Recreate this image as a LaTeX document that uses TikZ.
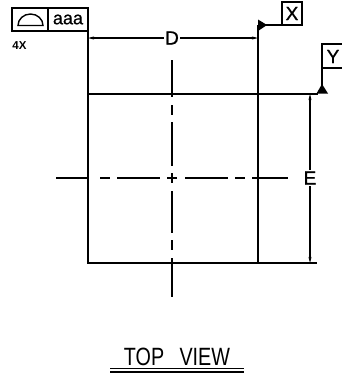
\documentclass[tikz,border=0pt]{standalone}
\usepackage{fontspec}
\usetikzlibrary{arrows.meta}
\setmainfont{Liberation Sans}
\tikzset{
	part/.style={line width=1.6pt},
	dimline/.style={line width=1.4pt,-{Stealth[length=6pt,width=3pt]}},
	cadbox/.style={draw,line width=1.6pt,inner sep=0pt,outer sep=0pt,anchor=north west},
	cadtext/.style={inner sep=0pt,font=\fontsize{19}{19}\selectfont\addfontfeature{FakeBold=1}},
	datum/.style={fill=black,draw=none}
}
\begin{document}
\begin{tikzpicture}[x=1pt,y=-1pt,>=stealth]
	\useasboundingbox (0,0) rectangle (341,375);
	% square and its corners
	\coordinate (tl) at (88,94);
	\coordinate (tr) at (258,94);
	\coordinate (bl) at (88,263);
	\coordinate (br) at (258,263);
	\draw[part] (tl)--(tr)--(br)--(bl)--cycle;
	% centre lines
	\foreach \a/\b in {56/88,100/110,117/160,167/177,185/228,235/245,252/288}\draw[part] (\a,178)--(\b,178);
	\foreach \a/\b in {60/97,105/115,122/166,173/183,191/233,240/250,258/297}\draw[part] (172,\a)--(172,\b);
	% profile frame
	\node[cadbox,minimum width=36pt,minimum height=23pt] (sym) at (12,8) {};
	\node[cadbox,minimum width=40pt,minimum height=23pt] (val) at (48,8) {};
	\node[inner sep=0pt,font=\fontsize{18}{18}\selectfont\addfontfeature{FakeBold=0.8}] (aaa) at (val.center) {aaa};
	\draw[line width=1.4pt] (18,25.5) arc[start angle=180,end angle=360,x radius=12.5,y radius=11.5]--cycle;
	\node[inner sep=0pt,font=\bfseries\fontsize{11.5}{11.5}\selectfont] (count) at (19.5,46) {4X};
	\draw[part] (val.south east)--(tl);
	% dimension D
	\node[cadtext,inner xsep=1pt] (D) at (172,38) {D};
	\coordinate (xfoot) at (258,34);
	\draw[dimline] (D.west)--(88,38);
	\draw[dimline] (D.east)--(258,38);
	\draw[part] (xfoot)--(tr);
	% datum X
	\node[cadbox,minimum width=20pt,minimum height=23pt] (X) at (282,2) {};
	\node[cadtext] (Xt) at (X.center) {X};
	\fill[datum] (258,19.5)--(267,25)--(258,31)--cycle;
	\draw[part] (258,25)--(X.south west);
	\draw[part] (258,25)--(xfoot);
	% datum Y
	\node[cadbox,minimum width=22pt,minimum height=24pt] (Y) at (322,44) {};
	\node[cadtext] (Yt) at (333,56.5) {Y};
	\fill[datum] (316.5,93.5)--(322,84)--(328,93.5)--cycle;
	\draw[part] (Y.south west)--(322,86);
	\draw[part] (tr)--(318,94);
	% dimension E
	\node[cadtext,inner ysep=1.5pt] (E) at (310,178) {E};
	\draw[dimline] (E.north)--(310,94);
	\draw[dimline] (E.south)--(310,263);
	\draw[part] (br)--(317,263);
	% title
	\node[inner sep=0pt,font=\fontsize{25}{25}\selectfont] (title) at (177,357) {\scalebox{0.79}[1]{TOP\hspace{0.5em} VIEW}};
	\draw[line width=1pt] (110,368)--(244,368);
	\draw[line width=1.6pt] (110,372)--(244,372);
\end{tikzpicture}
\end{document}
